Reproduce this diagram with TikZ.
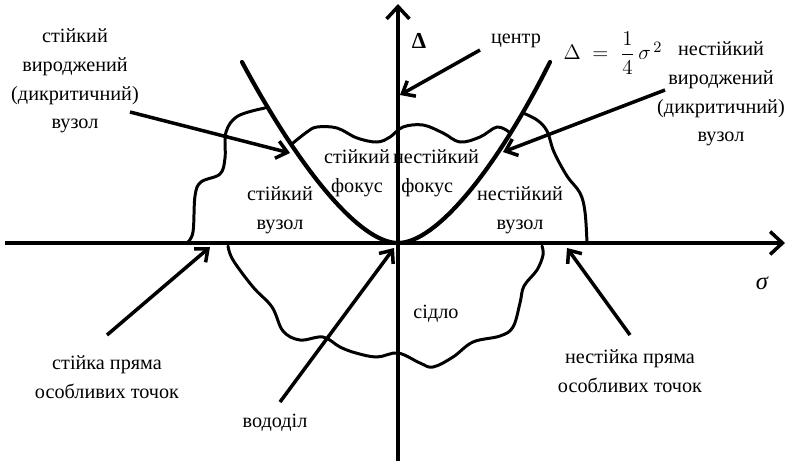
\documentclass[tikz,border=0pt]{standalone}
\usepackage{fontspec}
\setmainfont{Liberation Serif}
\usepackage{amsmath}
\usetikzlibrary{arrows.meta}

\begin{document}
\begin{tikzpicture}[x=0.02cm,y=-0.02cm,
  every node/.style={font=\fontsize{11.5}{16.4}\selectfont,align=center,inner sep=0pt},
  axisline/.style={line width=2pt,-{Straight Barb[length=7pt,width=13pt]}},
  ptr/.style={line width=2pt,-{Straight Barb[length=6pt,width=10pt]}},
  bound/.style={line width=1.7pt,line join=round,line cap=round},
  parab/.style={line width=2.4pt,line cap=round}]
\useasboundingbox (0,0) rectangle (787,461);
% axes
\coordinate (sigL) at (5,243);
\coordinate (sigR) at (785,243);
\coordinate (delB) at (398,461);
\coordinate (delT) at (398,4);
\coordinate (O) at (398,243);
\draw[axisline] (sigL)--(sigR);
\draw[axisline] (delB)--(delT);
\node (delta) at (419,41) {\fontsize{13}{15}\selectfont\bfseries Δ};
\node (sigma) at (762,283) {\fontsize{14}{16}\selectfont\itshape σ};
% parabola
\coordinate (parL) at (242,62);
\coordinate (parR) at (550,62);
\draw[parab] (parL) .. controls (300,170) and (360,243) .. (O)
             .. controls (436,243) and (496,170) .. (parR);
\node (formula) at (613,53) {\fontsize{13}{15}\selectfont$\Delta\;=\;\dfrac{1}{4}\,\sigma^{\,2}$};
% boundaries of the regions
\draw[bound] plot[smooth,tension=0.6] coordinates {(187,243) (193,232) (195,196) (201,182) (220,174) (225,158) (226,132) (238,116) (265,108)};
\draw[bound] plot[smooth,tension=0.6] coordinates {(293,143) (307,132) (317,127) (337,128) (357,138) (377,142) (390,137) (403,127) (423,125) (443,133) (460,142) (480,137) (497,127) (509,132)};
\draw[bound] plot[smooth,tension=0.6] coordinates {(523,113) (537,120) (547,131) (554,152) (567,176) (580,193) (585,212) (587,243)};
\draw[bound] plot[smooth,tension=0.6] coordinates {(228,246) (233,260) (253,287) (272,307) (283,331) (300,340) (323,337) (340,347) (356,353) (377,357) (398,353) (420,363) (433,367) (453,357) (473,342) (500,336) (513,327) (520,303) (524,286) (537,270) (543,255) (542,246)};
% labels
\node (stdeg) at (75,81) {стійкий\\вироджений\\(дикритичний)\\вузол};
\node (unstdeg) at (721,94) {нестійкий\\вироджений\\(дикритичний)\\вузол};
\node (centre) at (516,41) {центр};
\node (stfoc) at (357,173) {стійкий\\фокус};
\node (unstfoc) at (436,173) {нестійкий\\\hspace*{-10pt}фокус};
\node (stnode) at (280,210) {стійкий\\вузол};
\node (unstnode) at (520,210) {нестійкий\\вузол};
\node (saddle) at (436,314) {сідло};
\node (stline) at (107,377) {стійка пряма\\особливих точок};
\node (unstline) at (630,371) {нестійка пряма\\особливих точок};
\node (sep) at (275,423) {вододіл};
% pointers
\coordinate (p1s) at (130,112); \coordinate (p1e) at (290,153);
\coordinate (p2s) at (480,50);  \coordinate (p2e) at (400,95);
\coordinate (p3s) at (665,90);  \coordinate (p3e) at (503,152);
\coordinate (p4s) at (107,335); \coordinate (p4e) at (210,247);
\coordinate (p5s) at (280,402); \coordinate (p5e) at (394,248);
\coordinate (p6s) at (630,335); \coordinate (p6e) at (567,248);
\draw[ptr] (p1s)--(p1e);
\draw[ptr] (p2s)--(p2e);
\draw[ptr] (p3s)--(p3e);
\draw[ptr] (p4s)--(p4e);
\draw[ptr] (p5s)--(p5e);
\draw[ptr] (p6s)--(p6e);
\end{tikzpicture}
\end{document}
